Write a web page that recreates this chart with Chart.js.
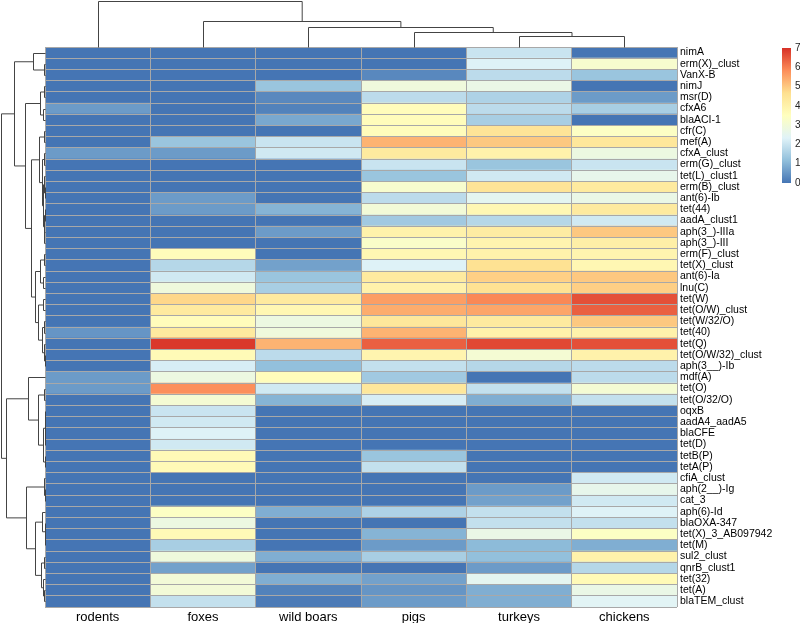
<!DOCTYPE html>
<html>
<head>
<meta charset="utf-8">
<script src="https://cdn.jsdelivr.net/npm/chart.js@4"></script>
<style>
  body { margin: 0; background: #fff; }
  #wrap { width: 800px; height: 623px; position: relative; }
</style>
</head>
<body>
<div id="wrap"><canvas id="chart"></canvas></div>
<script>
const geneLabels = ['nimA', 'erm(X)_clust', 'VanX-B', 'nimJ', 'msr(D)', 'cfxA6', 'blaACI-1', 'cfr(C)', 'mef(A)', 'cfxA_clust',
  'erm(G)_clust', 'tet(L)_clust1', 'erm(B)_clust', 'ant(6)-Ib', 'tet(44)', 'aadA_clust1', 'aph(3_)-IIIa', 'aph(3_)-III', 'erm(F)_clust', 'tet(X)_clust',
  'ant(6)-Ia', 'lnu(C)', 'tet(W)', 'tet(O/W)_clust', 'tet(W/32/O)', 'tet(40)', 'tet(Q)', 'tet(O/W/32)_clust', 'aph(3__)-Ib', 'mdf(A)',
  'tet(O)', 'tet(O/32/O)', 'oqxB', 'aadA4_aadA5', 'blaCFE', 'tet(D)', 'tetB(P)', 'tetA(P)', 'cfiA_clust', 'aph(2__)-Ig',
  'cat_3', 'aph(6)-Id', 'blaOXA-347', 'tet(X)_3_AB097942', 'tet(M)', 'sul2_clust', 'qnrB_clust1', 'tet(32)', 'tet(A)', 'blaTEM_clust'];

const hostLabels = ['rodents', 'foxes', 'wild boars', 'pigs', 'turkeys', 'chickens'];

const rodents = [0, 0, 0, 0, 0, 0.6, 0, 0, 0, 0.6,  0, 0, 0, 0, 0, 0, 0, 0, 0, 0,
  0, 0, 0, 0, 0, 0.5, 0, 0, 0, 0.6,  0.6, 0, 0, 0, 0, 0, 0, 0, 0, 0,  0, 0, 0, 0, 0, 0, 0, 0, 0, 0];
const foxes = [0, 0, 0, 0, 0, 0, 0, 0, 1.3, 0.6,  0, 0, 0, 0.6, 0.6, 0, 0, 0, 3.6, 1.7,
  2.1, 2.9, 4.8, 4.3, 3.6, 4.3, 6.9, 3.7, 2.2, 2.8,  5.8, 3.1, 2.0, 2.1, 2.3, 2.1, 3.7, 3.7, 0, 0,
  0, 3.4, 2.8, 3.7, 1.5, 2.9, 0.7, 3.0, 3.0, 1.9];
const wildBoars = [0, 0, 0, 1.3, 0.3, 0.2, 0.8, 0, 2.0, 2.1,  0, 0, 0, 0, 1.0, 0, 0.6, 0, 0, 0.7,
  1.3, 1.5, 4.3, 3.8, 2.8, 2.9, 5.3, 1.8, 1.2, 3.6,  2.1, 1.0, 0, 0, 0, 0, 0, 0, 0, 0,
  0, 0.9, 0, 0, 0, 0.9, 0, 0.9, 0.2, 0.1];
const pigs = [0, 0, 0.3, 2.9, 1.8, 3.6, 3.6, 3.6, 5.3, 4.3,  2.0, 1.3, 3.2, 1.8, 3.0, 1.4, 4.0, 3.3, 3.8, 2.3,
  4.3, 4.0, 5.6, 5.4, 4.4, 5.3, 6.4, 3.9, 1.9, 1.4,  4.4, 2.2, 0, 0, 0, 0, 1.3, 1.9, 0, 0,
  0, 1.6, 0, 1.0, 0.6, 1.5, 0, 0.7, 0.5, 0.6];
const turkeys = [2.0, 2.3, 1.8, 2.7, 1.6, 1.8, 1.5, 4.5, 5.0, 4.0,  1.3, 2.1, 4.5, 2.5, 3.8, 1.7, 4.2, 3.9, 4.0, 4.6,
  4.9, 4.6, 5.9, 5.5, 4.3, 4.0, 6.7, 3.1, 1.7, 0,  1.9, 0.9, 0, 0, 0, 0, 0, 0, 0, 0.6,
  0.7, 1.9, 1.9, 2.7, 1.1, 1.2, 0.6, 2.5, 0.9, 0.9];
const chickens = [0, 3.2, 1.3, 0, 0.6, 1.5, 0, 3.4, 4.4, 2.8,  2.0, 2.6, 4.3, 2.7, 4.3, 2.1, 5.0, 4.1, 3.9, 3.8,
  5.0, 4.9, 6.6, 6.4, 5.0, 4.0, 6.6, 4.0, 1.8, 1.8,  3.1, 1.9, 0, 0, 0, 0, 0, 0, 2.1, 2.6,
  2.1, 2.3, 1.9, 3.4, 0.9, 4.0, 1.7, 3.7, 2.7, 2.4];

const legendTicks = [0, 1, 2, 3, 4, 5, 6, 7];

// clustering trees: [mergeHeight, left, right], leaves are row / column indices
const rowTree = [44,
  [31,
    [12, 0, [1, 1, 2]],
    [20,
      [5, [1, 3, 4], [2, 5, 6]],
      [14,
        [6, [1.5, 7, 8],
          [3.5, [1.5, 9, 10], [2.5, [1, 11, [0.3, 12, 13]], [1.5, [0.5, 14, 15], [1, 16, 17]]]]],
        [10, [5, [1, 18, 19], [2, 20, 21]],
          [7, [2, 22, 23], [3, [1, 24, 25], [1.5, 26, [0.5, 27, 28]]]]]]]],
  [39,
    [17, 29, [7, [1, 30, 31], [2.3, [0.5, [0.2, 32, 33], [0.3, 34, 35]], [0.5, 36, 37]]]],
    [19, [1, 38, [0.5, 39, 40]],
      [10, [3, 41, [0.5, 42, [0.3, 43, 44]]], [4, [1, 45, 46], [2, 47, [1, 48, 49]]]]]]];
const colTree = [46, 0, [26.4, 1, [20.3, 2, [14.7, 3, [11.5, 4, 5]]]]];

const palette = ['#4575B4', '#91BFDB', '#E0F3F8', '#FFFFBF', '#FEE090', '#FC8D59', '#D73027'];
const vMax = 7;

function hexToRgb(h) {
  return [parseInt(h.slice(1, 3), 16), parseInt(h.slice(3, 5), 16), parseInt(h.slice(5, 7), 16)];
}
function colorFor(v) {
  let t = Math.max(0, Math.min(1, v / vMax)) * (palette.length - 1);
  let i = Math.min(Math.floor(t), palette.length - 2);
  let f = t - i;
  let a = hexToRgb(palette[i]), b = hexToRgb(palette[i + 1]);
  let c = a.map((x, k) => Math.round(x + (b[k] - x) * f));
  return 'rgb(' + c.join(',') + ')';
}

const series = [rodents, foxes, wildBoars, pigs, turkeys, chickens];
const datasets = series.map((vals, k) => ({
  label: hostLabels[k],
  data: vals.map(() => [k, k + 1]),
  backgroundColor: vals.map(colorFor),
  borderWidth: 0,
  barPercentage: 1,
  categoryPercentage: 1,
  grouped: false
}));

function drawTree(ctx, node, leafPos, hPos) {
  if (typeof node === 'number') return { p: leafPos(node), h: 0 };
  const a = drawTree(ctx, node[1], leafPos, hPos);
  const b = drawTree(ctx, node[2], leafPos, hPos);
  const h = node[0];
  ctx.beginPath();
  hPos(ctx, a, b, h);
  ctx.stroke();
  return { p: (a.p + b.p) / 2, h: h };
}

const dendroPlugin = {
  id: 'dendro',
  afterDraw(chart) {
    const ctx = chart.ctx, area = chart.chartArea;
    const y = chart.scales.y, cols = chart.scales.cols;
    ctx.save();
    ctx.strokeStyle = '#444';
    ctx.lineWidth = 1;
    const ux = (area.left - 1) / rowTree[0];
    const hx = h => Math.round(area.left - h * ux) + 0.5;
    drawTree(ctx, rowTree, i => Math.round(y.getPixelForValue(i)) + 0.5, (c, a, b, h) => {
      c.moveTo(hx(a.h), a.p); c.lineTo(hx(h), a.p);
      c.lineTo(hx(h), b.p); c.lineTo(hx(b.h), b.p);
    });
    const uy = (area.top - 1) / colTree[0];
    const hy = h => Math.round(area.top - h * uy) + 0.5;
    drawTree(ctx, colTree, i => Math.round(cols.getPixelForValue(i)) + 0.5, (c, a, b, h) => {
      c.moveTo(a.p, hy(a.h)); c.lineTo(a.p, hy(h));
      c.lineTo(b.p, hy(h)); c.lineTo(b.p, hy(b.h));
    });

    // colour key
    const bx = 782, bw = 9, top = 48, bottom = 183;
    const g = ctx.createLinearGradient(0, bottom, 0, top);
    palette.forEach((c, i) => g.addColorStop(i / (palette.length - 1), c));
    ctx.fillStyle = g;
    ctx.fillRect(bx, top, bw, bottom - top);
    ctx.fillStyle = '#222';
    ctx.font = '10px "Liberation Sans", Arial, sans-serif';
    ctx.textBaseline = 'middle';
    ctx.textAlign = 'left';
    legendTicks.forEach(v => {
      ctx.fillText(String(v), bx + bw + 4, bottom - (bottom - top) * v / vMax);
    });
    ctx.restore();
  }
};

const fontFamily = '"Liberation Sans", Arial, sans-serif';
const gridColor = '#A8A8A8';

new Chart(document.getElementById('chart'), {
  type: 'bar',
  data: { labels: geneLabels, datasets: datasets },
  options: {
    indexAxis: 'y',
    responsive: true,
    maintainAspectRatio: false,
    animation: false,
    layout: { padding: { left: 45, top: 47, right: 0, bottom: 0 } },
    plugins: { legend: { display: false }, tooltip: { enabled: false } },
    scales: {
      x: {
        type: 'linear', position: 'top', min: 0, max: 6,
        ticks: { display: false, stepSize: 1 },
        grid: { color: gridColor, z: 1, drawTicks: false },
        border: { display: false },
        afterFit: s => { s.height = 0; }
      },
      cols: {
        type: 'category', position: 'bottom', labels: hostLabels, offset: true,
        grid: { display: false, drawTicks: false }, border: { display: false },
        ticks: { color: '#000', font: { family: fontFamily, size: 13 }, padding: 3, maxRotation: 0 },
        afterFit: s => { s.height = 16; }
      },
      y: {
        type: 'category', position: 'right', offset: true,
        grid: { color: gridColor, z: 1, offset: true, drawTicks: false },
        border: { display: false },
        ticks: { color: '#000', font: { family: fontFamily, size: 10.5 }, padding: 3, autoSkip: false },
        afterFit: s => { s.width = 123; }
      }
    }
  },
  plugins: [dendroPlugin]
});
</script>
</body>
</html>
